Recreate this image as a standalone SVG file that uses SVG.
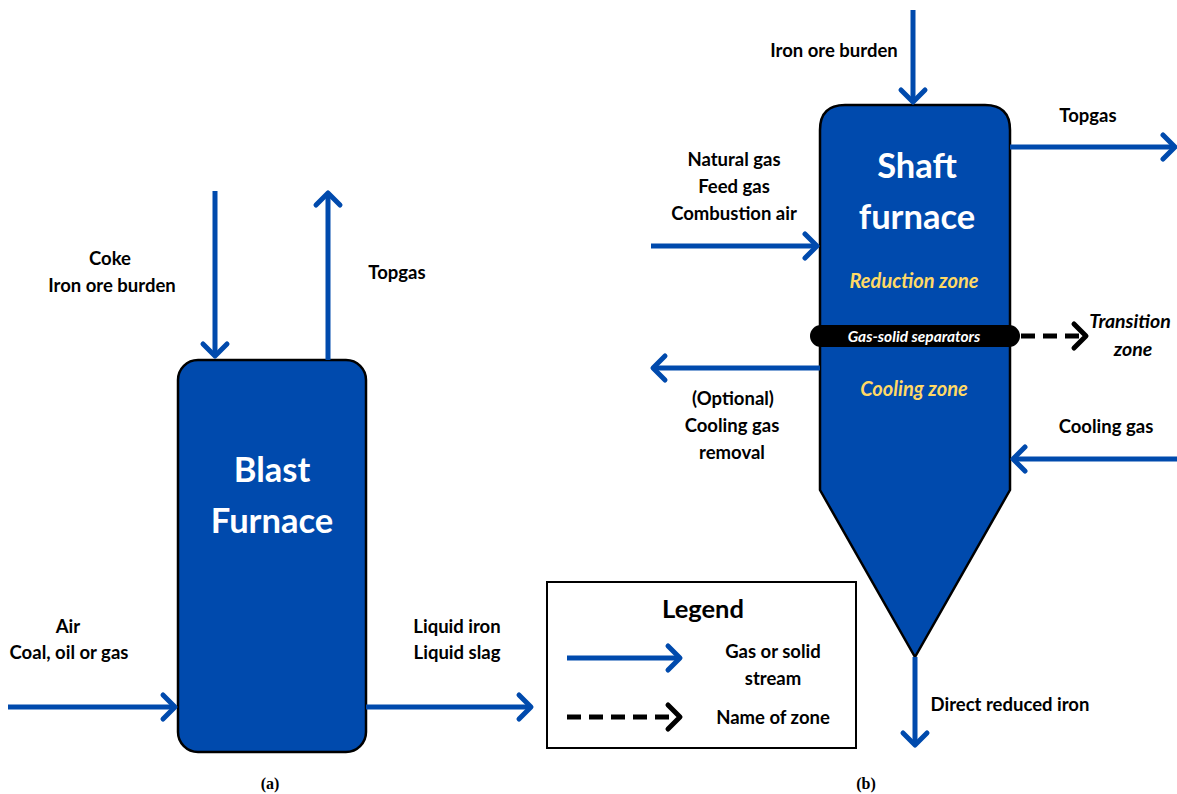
<svg xmlns="http://www.w3.org/2000/svg" width="1177" height="794" viewBox="0 0 1177 794">
<defs>
<style>
.t{font-family:Lato,"Open Sans","Liberation Sans",sans-serif;font-weight:bold;font-size:18.5px;fill:#000;text-anchor:middle}
.big{font-family:Lato,"Open Sans","Liberation Sans",sans-serif;font-weight:bold;font-size:34.5px;fill:#fff;text-anchor:middle}
.zone{font-family:Lato,"Open Sans","Liberation Sans",sans-serif;font-weight:bold;font-style:italic;font-size:20px;fill:#FFD966;text-anchor:middle}
.it{font-family:Lato,"Open Sans","Liberation Sans",sans-serif;font-weight:bold;font-style:italic;font-size:19.5px;fill:#000;text-anchor:middle}
.cap{font-family:"Liberation Serif",serif;font-weight:bold;font-size:16px;fill:#000;text-anchor:middle}
.body{fill:#004AAD;stroke:#000;stroke-width:2.5}
.flow{fill:none;stroke:#004AAD;stroke-width:5;marker-end:url(#ab)}
.dash{fill:none;stroke:#000;stroke-width:5;stroke-dasharray:14 8;marker-end:url(#ak)}
</style>
<marker id="ab" markerUnits="userSpaceOnUse" viewBox="-16 -16 20 32" markerWidth="20" markerHeight="32" refX="0" refY="0" orient="auto" overflow="visible">
<path d="M-12,-12 L0,0 L-12,12" fill="none" stroke="#004AAD" stroke-width="5" stroke-linecap="round" stroke-linejoin="round"/>
</marker>
<marker id="ak" markerUnits="userSpaceOnUse" viewBox="-16 -16 20 32" markerWidth="20" markerHeight="32" refX="0" refY="0" orient="auto" overflow="visible">
<path d="M-12,-12 L0,0 L-12,12" fill="none" stroke="#000" stroke-width="5" stroke-linecap="round" stroke-linejoin="round"/>
</marker>
</defs>
<rect width="1177" height="794" fill="#fff"/>

<g id="blast-furnace">
<rect class="body" x="178" y="360" width="188" height="392" rx="20" ry="20"/>
<text class="big" x="272" y="482">Blast</text>
<text class="big" x="272" y="533">Furnace</text>
</g>

<g id="shaft-furnace">
<path class="body" d="M845,105 L985,105 Q1010,105 1010,130 L1010,490 L915,657 L820,490 L820,130 Q820,105 845,105 Z"/>
<text class="big" x="917" y="178">Shaft</text>
<text class="big" x="917" y="229">furnace</text>
<text class="zone" x="914" y="288">Reduction zone</text>
<text class="zone" x="914" y="396">Cooling zone</text>
</g>

<g id="separator">
<rect x="810" y="325" width="210" height="22" rx="11" ry="11" fill="#000"/>
<text x="914" y="341.5" font-family="Lato,'Open Sans','Liberation Sans',sans-serif" font-weight="bold" font-style="italic" font-size="15.5" fill="#fff" text-anchor="middle">Gas-solid separators</text>
</g>

<g id="legend">
<rect x="547" y="582" width="309" height="166" fill="#fff" stroke="#000" stroke-width="2"/>
<text class="t" x="703" y="618" style="font-size:25.5px">Legend</text>
<text class="t" x="773" y="658">Gas or solid</text>
<text class="t" x="773" y="685">stream</text>
<text class="t" x="773" y="724">Name of zone</text>
</g>

<g id="connectors">
<line class="flow" x1="215" y1="191" x2="215" y2="356"/>
<line class="flow" x1="328" y1="360" x2="328" y2="193"/>
<line class="flow" x1="8" y1="707" x2="175" y2="707"/>
<line class="flow" x1="366" y1="707" x2="531" y2="707"/>
<line class="flow" x1="913" y1="10" x2="913" y2="102"/>
<line class="flow" x1="1010" y1="147" x2="1175" y2="147"/>
<line class="flow" x1="651" y1="246" x2="817" y2="246"/>
<line class="flow" x1="820" y1="368" x2="653" y2="368"/>
<line class="flow" x1="1177" y1="459" x2="1013" y2="459"/>
<line class="flow" x1="915" y1="657" x2="915" y2="745"/>
<line class="dash" x1="1021" y1="336" x2="1086" y2="336"/>
<line class="flow" x1="567" y1="658" x2="680" y2="658"/>
<line class="dash" x1="567" y1="717" x2="680" y2="717"/>
</g>

<g id="labels">
<text class="t" x="110" y="265">Coke</text>
<text class="t" x="112" y="292">Iron ore burden</text>
<text class="t" x="397" y="279">Topgas</text>
<text class="t" x="68" y="633">Air</text>
<text class="t" x="69" y="659">Coal, oil or gas</text>
<text class="t" x="457" y="633">Liquid iron</text>
<text class="t" x="457" y="659">Liquid slag</text>
<text class="cap" x="270" y="789">(a)</text>
<text class="t" x="834" y="57">Iron ore burden</text>
<text class="t" x="1088" y="122">Topgas</text>
<text class="t" x="734" y="166">Natural gas</text>
<text class="t" x="734" y="193">Feed gas</text>
<text class="t" x="734" y="220">Combustion air</text>
<text class="it" x="1130" y="328">Transition</text>
<text class="it" x="1133" y="356">zone</text>
<text class="t" x="733" y="405">(Optional)</text>
<text class="t" x="732" y="432">Cooling gas</text>
<text class="t" x="732" y="459">removal</text>
<text class="t" x="1106" y="433">Cooling gas</text>
<text class="t" x="1010" y="711">Direct reduced iron</text>
<text class="cap" x="866" y="789">(b)</text>
</g>
</svg>
